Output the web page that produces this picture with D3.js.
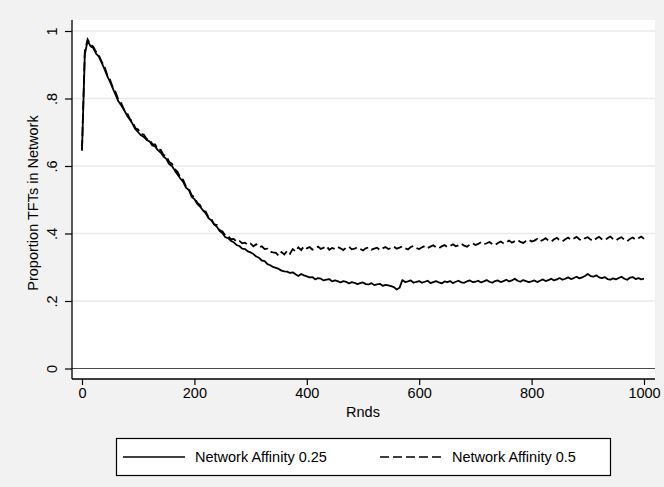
<!DOCTYPE html>
<html lang="en">
<head>
<meta charset="utf-8">
<title>Proportion TFTs in Network</title>
<script src="https://d3js.org/d3.v7.min.js"></script>
<style>
  body { margin: 0; background: #f2f2f2; }
  svg text { font-family: "Liberation Sans", Arial, sans-serif; fill: #000; }
</style>
</head>
<body>
<script>
// rounds sampled every 5 from 0 to 1000
var rounds = d3.range(0, 1001, 5);

// Network Affinity 0.25 (solid)
var affinity25 = [
  0.645, 0.930, 0.972, 0.955, 0.950, 0.933, 0.924, 0.906, 0.887, 0.866,
  0.849, 0.829, 0.810, 0.791, 0.779, 0.766, 0.750, 0.738, 0.725, 0.709,
  0.700, 0.691, 0.686, 0.677, 0.673, 0.661, 0.658, 0.647, 0.640, 0.628,
  0.621, 0.606, 0.600, 0.587, 0.575, 0.563, 0.553, 0.536, 0.529, 0.509,
  0.502, 0.488, 0.480, 0.469, 0.460, 0.446, 0.439, 0.428, 0.420, 0.407,
  0.401, 0.389, 0.386, 0.378, 0.374, 0.366, 0.363, 0.355, 0.354, 0.347,
  0.344, 0.339, 0.332, 0.328, 0.320, 0.318, 0.309, 0.306, 0.301, 0.298,
  0.295, 0.290, 0.288, 0.287, 0.283, 0.285, 0.279, 0.274, 0.280, 0.276,
  0.273, 0.270, 0.271, 0.264, 0.268, 0.266, 0.261, 0.263, 0.265, 0.258,
  0.261, 0.259, 0.255, 0.259, 0.257, 0.252, 0.256, 0.254, 0.250, 0.253,
  0.255, 0.250, 0.249, 0.253, 0.247, 0.249, 0.251, 0.245, 0.248, 0.246,
  0.244, 0.241, 0.234, 0.239, 0.262, 0.256, 0.258, 0.261, 0.254, 0.257,
  0.259, 0.254, 0.257, 0.260, 0.253, 0.256, 0.259, 0.255, 0.252, 0.258,
  0.256, 0.259, 0.253, 0.257, 0.260, 0.255, 0.254, 0.258, 0.261, 0.256,
  0.257, 0.260, 0.255, 0.258, 0.262, 0.257, 0.254, 0.259, 0.261, 0.256,
  0.259, 0.263, 0.258, 0.261, 0.266, 0.260, 0.257, 0.262, 0.259, 0.256,
  0.258, 0.261, 0.256, 0.260, 0.264, 0.259, 0.262, 0.266, 0.261, 0.264,
  0.268, 0.263, 0.266, 0.270, 0.265, 0.268, 0.272, 0.267, 0.270, 0.274,
  0.280, 0.274, 0.272, 0.276, 0.270, 0.268, 0.271, 0.265, 0.263, 0.267,
  0.264, 0.268, 0.272, 0.266, 0.263, 0.269, 0.271, 0.265, 0.268, 0.264,
  0.266
];

// Network Affinity 0.5 (dashed)
var affinity50 = [
  0.650, 0.940, 0.975, 0.960, 0.954, 0.938, 0.928, 0.909, 0.895, 0.869,
  0.855, 0.832, 0.818, 0.795, 0.786, 0.766, 0.758, 0.740, 0.731, 0.712,
  0.708, 0.695, 0.693, 0.680, 0.679, 0.665, 0.664, 0.649, 0.648, 0.633,
  0.630, 0.612, 0.607, 0.591, 0.583, 0.565, 0.559, 0.539, 0.533, 0.514,
  0.507, 0.491, 0.484, 0.467, 0.465, 0.448, 0.444, 0.427, 0.425, 0.410,
  0.406, 0.394, 0.392, 0.383, 0.384, 0.376, 0.378, 0.371, 0.373, 0.366,
  0.370, 0.362, 0.368, 0.359, 0.362, 0.354, 0.355, 0.346, 0.344, 0.343,
  0.334, 0.345, 0.338, 0.349, 0.340, 0.354, 0.347, 0.359, 0.351, 0.362,
  0.356, 0.360, 0.352, 0.357, 0.361, 0.354, 0.358, 0.363, 0.352, 0.357,
  0.354, 0.360, 0.356, 0.351, 0.358, 0.361, 0.353, 0.355, 0.359, 0.354,
  0.350, 0.356, 0.359, 0.352, 0.355, 0.358, 0.351, 0.356, 0.360, 0.354,
  0.357, 0.361, 0.355, 0.358, 0.362, 0.356, 0.353, 0.360, 0.363, 0.357,
  0.354, 0.359, 0.363, 0.357, 0.361, 0.365, 0.359, 0.356, 0.362, 0.366,
  0.360, 0.363, 0.368, 0.362, 0.365, 0.370, 0.364, 0.361, 0.367, 0.371,
  0.366, 0.369, 0.374, 0.368, 0.371, 0.375, 0.369, 0.366, 0.372, 0.376,
  0.371, 0.374, 0.379, 0.373, 0.377, 0.381, 0.375, 0.372, 0.378, 0.382,
  0.376, 0.379, 0.384, 0.377, 0.381, 0.386, 0.379, 0.376, 0.383, 0.387,
  0.380, 0.377, 0.383, 0.388, 0.381, 0.385, 0.390, 0.383, 0.379, 0.386,
  0.389, 0.382, 0.378, 0.385, 0.390, 0.383, 0.380, 0.386, 0.391, 0.384,
  0.379, 0.385, 0.389, 0.381, 0.377, 0.384, 0.388, 0.382, 0.386, 0.391,
  0.384
];

var xTicks = [0, 200, 400, 600, 800, 1000];
var yTicks = [0, 0.2, 0.4, 0.6, 0.8, 1];
var yTickLabels = ["0", ".2", ".4", ".6", ".8", "1"];
var seriesNames = ["Network Affinity 0.25", "Network Affinity 0.5"];

var w = 664, h = 487;
var fs = 14.5;
var plot = { left: 72, right: 655, top: 20, bottom: 379 };

var xScale = d3.scaleLinear()
  .domain([0, 1000])
  .range([82, 644]);

var yScale = d3.scaleLinear()
  .domain([0, 1])
  .range([368.5, 31]);

var svg = d3.select("body")
  .append("svg")
  .attr("width", w)
  .attr("height", h)
  .style("display", "block");

svg.append("rect")
  .attr("width", w).attr("height", h)
  .attr("fill", "#f2f2f2");

// plot region
svg.append("rect")
  .attr("x", plot.left).attr("y", plot.top)
  .attr("width", plot.right - plot.left)
  .attr("height", plot.bottom - plot.top)
  .attr("fill", "#fff");

// grid lines
svg.append("g")
  .selectAll("line")
  .data(yTicks)
  .join("line")
  .attr("x1", plot.left).attr("x2", plot.right)
  .attr("y1", d => yScale(d)).attr("y2", d => yScale(d))
  .attr("stroke", d => d === 0 ? "#4a4a4a" : "#eaeaea")
  .attr("stroke-width", d => d === 0 ? 1.2 : 1.5);

// lines
var lineGen = function (vals) {
  return d3.line()
    .x((d, i) => xScale(rounds[i]))
    .y(d => yScale(d))(vals);
};

svg.append("path")
  .attr("d", lineGen(affinity25))
  .attr("fill", "none")
  .attr("stroke", "#000")
  .attr("stroke-width", 1.8)
  .attr("stroke-linejoin", "round");

svg.append("path")
  .attr("d", lineGen(affinity50))
  .attr("fill", "none")
  .attr("stroke", "#000")
  .attr("stroke-width", 1.8)
  .attr("stroke-dasharray", "9,4");

// Y axis
var yAxis = d3.axisLeft(yScale)
  .tickValues(yTicks)
  .tickSize(7)
  .tickPadding(4)
  .tickFormat((d, i) => yTickLabels[i]);

var yg = svg.append("g")
  .attr("transform", "translate(" + plot.left + ",0)")
  .call(yAxis);
yg.select(".domain").attr("d", "M0," + plot.top + "V" + plot.bottom).attr("stroke-width", 1.3);
yg.selectAll(".tick line").attr("stroke-width", 1.2);
yg.selectAll(".tick text")
  .attr("font-size", fs)
  .attr("x", -20).attr("dy", null)
  .attr("text-anchor", "middle")
  .attr("dominant-baseline", "central")
  .attr("transform", "rotate(-90,-20,0)");

// X axis
var xAxis = d3.axisBottom(xScale)
  .tickValues(xTicks)
  .tickSize(6)
  .tickPadding(3)
  .tickFormat(d3.format("d"));

var xg = svg.append("g")
  .attr("transform", "translate(0," + plot.bottom + ")")
  .call(xAxis);
xg.select(".domain").attr("d", "M" + plot.left + ",0H" + plot.right).attr("stroke-width", 1.3);
xg.selectAll(".tick line").attr("stroke-width", 1.2);
xg.selectAll(".tick text").attr("font-size", fs);

// axis titles
svg.append("text")
  .attr("transform", "translate(38,203) rotate(-90)")
  .attr("text-anchor", "middle")
  .attr("font-size", fs)
  .text("Proportion TFTs in Network");

svg.append("text")
  .attr("x", 363).attr("y", 417)
  .attr("text-anchor", "middle")
  .attr("font-size", fs)
  .text("Rnds");

// legend
var legend = svg.append("g");
legend.append("rect")
  .attr("x", 116.5).attr("y", 438.5)
  .attr("width", 494).attr("height", 37)
  .attr("fill", "#fff")
  .attr("stroke", "#000")
  .attr("stroke-width", 1.2);

var legendItems = [
  { name: seriesNames[0], x: 123, dash: null },
  { name: seriesNames[1], x: 380, dash: "9,4" }
];
legendItems.forEach(function (it) {
  legend.append("line")
    .attr("x1", it.x).attr("x2", it.x + 62)
    .attr("y1", 457).attr("y2", 457)
    .attr("stroke", "#000")
    .attr("stroke-width", 1.5)
    .attr("stroke-dasharray", it.dash);
  legend.append("text")
    .attr("x", it.x + 72).attr("y", 457)
    .attr("dominant-baseline", "central")
    .attr("font-size", fs)
    .text(it.name);
});
</script>
</body>
</html>
